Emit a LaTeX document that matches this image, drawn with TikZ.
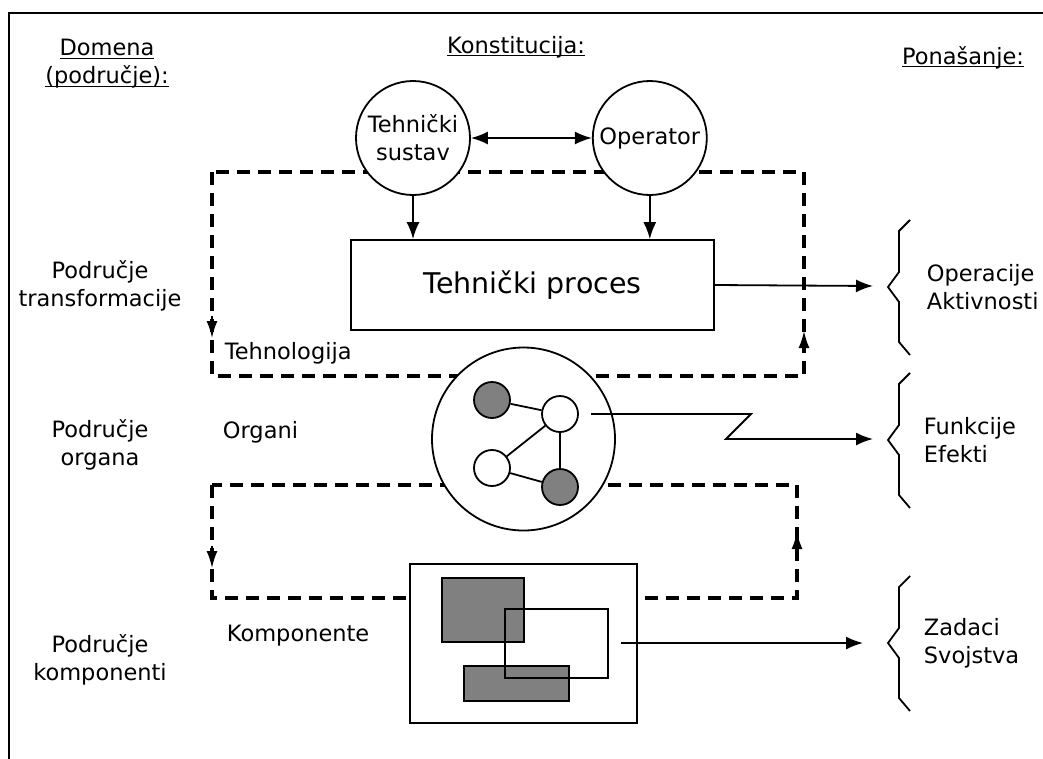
\documentclass[tikz,border=0pt]{standalone}
\usepackage{fontspec}
\setmainfont{DejaVu Sans}
\usepackage{tikz}
\usetikzlibrary{arrows.meta,positioning,calc}
\definecolor{partgray}{HTML}{808080}
\newcommand{\undl}[1]{\sbox0{#1}\rlap{\rule[-3pt]{\wd0}{1.3pt}}\usebox0}
\tikzset{
    tip/.style={-{Latex[length=17pt,width=13pt]}},
    looptip/.style={-{Latex[length=17pt,width=11pt]}, line width=1.8pt, solid},
    txt/.style={font=\fontsize{22.5}{28}\selectfont, align=center, inner sep=0pt},
    sys/.style={circle, draw, fill=white, minimum size=114pt, inner sep=0pt, txt},
    organ/.style={circle, draw, fill=white, minimum size=36pt, inner sep=0pt},
    loopline/.style={line width=3.6pt, dash pattern=on 13pt off 8pt},
    brace/.style={line width=1.8pt, line join=miter}
}

\begin{document}
\begin{tikzpicture}[x=1pt, y=-1pt, line width=1.8pt]
    \useasboundingbox (0,0) rectangle (1043,758);
    % Frame
    \draw[line width=2.2pt] (1050,13) -- (9,13) -- (9,770);

    % Headers
    \node[txt] (dom) at (107,64) {\undl{Domena}\\\undl{(područje):}};
    \node[txt, anchor=base] (kon) at (516,53) {\undl{Konstitucija:}};
    \node[txt, anchor=base] (pon) at (963,64) {\undl{Ponašanje:}};

    % Left column
    \node[txt] (ptr) at (100,286) {Područje\\transformacije};
    \node[txt] (porg) at (100,445) {Područje\\organa};
    \node[txt] (pkom) at (100,660) {Područje\\komponenti};
    \node[txt, anchor=west] (teh) at (224,353) {Tehnologija};
    \node[txt, anchor=west] (orgl) at (222,432) {Organi};
    \node[txt, anchor=west] (koml) at (226,636) {Komponente};

    % Loop 1
    \coordinate (t1a) at (212,172);
    \coordinate (t1b) at (804,172);
    \coordinate (t1c) at (804,376);
    \coordinate (t1d) at (212,376);
    \coordinate (t1l) at (212,338);
    \coordinate (t1lb) at (212,316);
    \coordinate (t1r) at (804,331);
    \coordinate (t1rb) at (804,353);
    \draw[loopline] (t1a) -- (t1d) -- (t1c) -- (t1b) -- cycle;
    \draw[looptip] (t1lb) -- (t1l);
    \draw[looptip] (t1rb) -- (t1r);

    % Loop 2
    \coordinate (t2a) at (212,485);
    \coordinate (t2b) at (797,485);
    \coordinate (t2c) at (797,598);
    \coordinate (t2d) at (212,598);
    \coordinate (t2l) at (212,568);
    \coordinate (t2lb) at (212,546);
    \coordinate (t2r) at (797,532);
    \coordinate (t2rb) at (797,554);
    \draw[loopline] (t2a) -- (t2d) -- (t2c) -- (t2b) -- cycle;
    \draw[looptip] (t2lb) -- (t2l);
    \draw[looptip] (t2rb) -- (t2r);

    % System and operator
    \node[sys] (ts) at (413,138) {Tehnički\\sustav};
    \node[sys] (op) [right=121pt of ts] {Operator};
    \node[draw, fill=white, minimum width=363pt, minimum height=90pt, font=\fontsize{28.5}{34}\selectfont] (proc) at (532.5,285) {Tehnički proces};
    \draw[{Latex[length=17pt,width=13pt]}-{Latex[length=17pt,width=13pt]}] (ts) -- (op);
    \draw[tip] (ts.south) -- (ts.south |- proc.north);
    \draw[tip] (op.south) -- (op.south |- proc.north);

    % Organs
    \node[circle, draw, fill=white, minimum size=183pt] (org) at (523.5,439) {};
    \node[organ, fill=partgray] (o1) at (492,400) {};
    \node[organ] (o2) at (560,414) {};
    \node[organ] (o3) at (492,468) {};
    \node[organ, fill=partgray] (o4) at (560,487) {};
    \draw (o1) -- (o2);
    \draw (o2) -- (o3);
    \draw (o2) -- (o4);
    \draw (o3) -- (o4);

    % Components
    \node[draw, fill=white, minimum width=227pt, minimum height=159pt, inner sep=0pt] (comp) at (523.5,643.5) {};
    \draw[fill=partgray] (442,578) rectangle (524,642);
    \draw[fill=partgray] (464,666) rectangle (569,701);
    \draw (505,609) rectangle (608,678);

    % Braces
    \draw[brace] (910,220) -- (899,231) -- (899,272) -- (888,287) -- (899,302) -- (899,342) -- (910,355);
    \draw[brace] (910,373) -- (899,384) -- (899,425) -- (888,440) -- (899,455) -- (899,495) -- (910,508);
    \draw[brace] (910,576) -- (899,587) -- (899,628) -- (888,643) -- (899,658) -- (899,698) -- (910,711);
    \node[txt, anchor=west, align=left] (beh1) at (926,287) {Operacije\\Aktivnosti};
    \node[txt, anchor=west, align=left] (beh2) at (923,440) {Funkcije\\Efekti};
    \node[txt, anchor=west, align=left] (beh3) at (923,643) {Zadaci\\Svojstva};

    % Outputs
    \coordinate (opin) at (873,286);
    \coordinate (zz0) at (591,414);
    \coordinate (zz1) at (751,414);
    \coordinate (zz2) at (726,439);
    \coordinate (funin) at (873,439);
    \coordinate (kout) at (621,643);
    \coordinate (zadin) at (863,643);
    \draw[tip] (proc.east) -- (opin);
    \draw[tip] (zz0) -- (zz1) -- (zz2) -- (funin);
    \draw[tip] (kout) -- (zadin);
\end{tikzpicture}
\end{document}
